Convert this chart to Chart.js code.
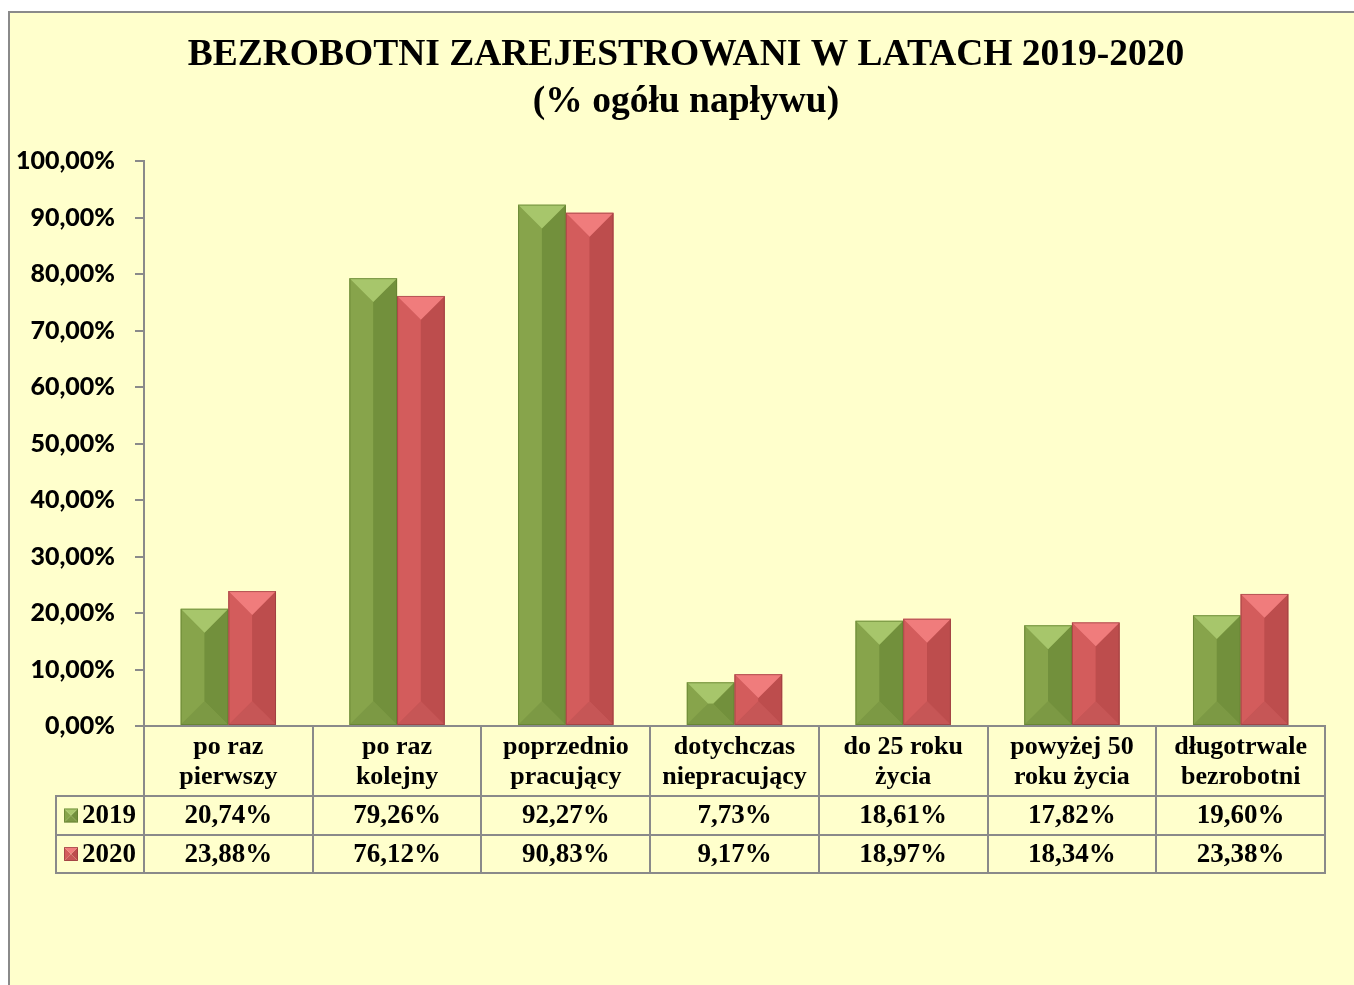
<!DOCTYPE html>
<html>
<head>
<meta charset="utf-8">
<script src="https://cdn.jsdelivr.net/npm/chart.js@4.4.1/dist/chart.umd.min.js"></script>
<style>
  html, body { margin: 0; padding: 0; background: #ffffff; overflow: hidden; width: 1354px; height: 985px; }
  #frame { position: absolute; left: 8px; top: 11px; width: 1344px; height: 972px;
           border-left: 2px solid #8a8a8a; border-top: 2px solid #8a8a8a; background: #FFFFCC; }
  canvas { display: block; }
</style>
</head>
<body>
<div id="frame"><canvas id="c" width="1344" height="972"></canvas></div>
<script>
// ---- data ----
const categories = [
  ["po raz", "pierwszy"],
  ["po raz", "kolejny"],
  ["poprzednio", "pracujący"],
  ["dotychczas", "niepracujący"],
  ["do 25 roku", "życia"],
  ["powyżej 50", "roku życia"],
  ["długotrwale", "bezrobotni"]
];
const seriesNames = ["2019", "2020"];
const values2019 = [20.74, 79.26, 92.27, 7.73, 18.61, 17.82, 19.60];
const values2020 = [23.88, 76.12, 90.83, 9.17, 18.97, 18.34, 23.38];
const titleLines = ["BEZROBOTNI ZAREJESTROWANI W LATACH 2019-2020", "(% ogółu napływu)"];

// ---- styles ----
const faces = [
  { front: "#7f9c45", left: "#87a44b", right: "#72903c", top: "#a7c66b", bottom: "#7c9944", edge: "#5d792c" },
  { front: "#c85454", left: "#d35c5c", right: "#bd4d4d", top: "#f07c7c", bottom: "#c65656", edge: "#8e3a3a" }
];
const gridColor = "#8a8a8a";
const serif = "'Liberation Serif', 'Times New Roman', serif";
const fmt = v => v.toFixed(2).replace('.', ',') + '%';

function bevel(ctx, l, t, r, b, f) {
  const w = r - l, h = b - t;
  const d = Math.min(w / 2, h / 2);
  ctx.save();
  ctx.fillStyle = f.left;
  ctx.beginPath(); ctx.moveTo(l, t); ctx.lineTo(l + d, t + d); ctx.lineTo(l + d, b - d); ctx.lineTo(l, b); ctx.closePath(); ctx.fill();
  ctx.fillStyle = f.right;
  ctx.beginPath(); ctx.moveTo(r, t); ctx.lineTo(r - d, t + d); ctx.lineTo(r - d, b - d); ctx.lineTo(r, b); ctx.closePath(); ctx.fill();
  if (w - 2 * d > 0.5 && h - 2 * d > 0.5) {
    ctx.fillStyle = f.front;
    ctx.fillRect(l + d, t + d, w - 2 * d, h - 2 * d);
  }
  ctx.fillStyle = f.top;
  ctx.beginPath(); ctx.moveTo(l, t); ctx.lineTo(r, t); ctx.lineTo(r - d, t + d); ctx.lineTo(l + d, t + d); ctx.closePath(); ctx.fill();
  ctx.fillStyle = f.bottom;
  ctx.beginPath(); ctx.moveTo(l, b); ctx.lineTo(r, b); ctx.lineTo(r - d, b - d); ctx.lineTo(l + d, b - d); ctx.closePath(); ctx.fill();
  ctx.strokeStyle = f.edge; ctx.lineWidth = 1; ctx.globalAlpha = 0.6;
  ctx.strokeRect(l + 0.5, t + 0.5, w - 1, h - 1);
  ctx.restore();
}

const bevelPlugin = {
  id: 'bevel',
  afterDatasetsDraw(chart) {
    const ctx = chart.ctx;
    chart.data.datasets.forEach((ds, di) => {
      const meta = chart.getDatasetMeta(di);
      meta.data.forEach(el => {
        const p = el.getProps(['x', 'y', 'base', 'width'], true);
        bevel(ctx, p.x - p.width / 2, Math.min(p.y, p.base), p.x + p.width / 2, Math.max(p.y, p.base), faces[di]);
      });
    });
  }
};

const titlePlugin = {
  id: 'customTitle',
  afterDraw(chart) {
    const ctx = chart.ctx;
    ctx.save();
    ctx.fillStyle = "#000";
    ctx.font = "bold 37.5px " + serif;
    ctx.textAlign = "center";
    ctx.textBaseline = "middle";
    ctx.fillText(titleLines[0], 676, 42);
    ctx.fillText(titleLines[1], 676, 89);
    ctx.restore();
  }
};

const tablePlugin = {
  id: 'dataTable',
  afterDraw(chart) {
    const ctx = chart.ctx;
    const xs = chart.scales.x;
    const area = chart.chartArea;
    const n = categories.length;
    const catW = (xs.right - xs.left) / n;
    const top = area.bottom;
    const hdrBottom = top + 70;
    const r1Bottom = hdrBottom + 39;
    const r2Bottom = r1Bottom + 38;
    const legLeft = 46;
    const rows = [values2019, values2020];
    const rowMid = [(hdrBottom + r1Bottom) / 2, (r1Bottom + r2Bottom) / 2];

    ctx.save();
    ctx.strokeStyle = gridColor;
    ctx.lineWidth = 2;
    ctx.beginPath();
    for (let i = 0; i <= n; i++) {
      const x = Math.round(xs.getPixelForValue(0) - catW / 2 + i * catW);
      ctx.moveTo(x, top); ctx.lineTo(x, r2Bottom);
    }
    ctx.moveTo(legLeft, hdrBottom); ctx.lineTo(legLeft, r2Bottom + 1);
    [hdrBottom, r1Bottom, r2Bottom].forEach(y => { ctx.moveTo(legLeft - 1, y); ctx.lineTo(xs.right + 1, y); });
    ctx.stroke();

    ctx.fillStyle = "#000";
    ctx.font = "bold 26px " + serif;
    ctx.textAlign = "center";
    ctx.textBaseline = "middle";
    categories.forEach((lines, i) => {
      const cx = xs.getPixelForValue(i);
      ctx.font = "bold 26px " + serif;
      ctx.fillText(lines[0], cx, top + 21);
      ctx.fillText(lines[1], cx, top + 51);
      ctx.font = "bold 27px " + serif;
      rows.forEach((vals, r) => ctx.fillText(fmt(vals[i]), cx, rowMid[r] + 1));
    });
    ctx.textAlign = "left";
    ctx.font = "bold 27px " + serif;
    seriesNames.forEach((name, r) => {
      bevel(ctx, 54, rowMid[r] - 7, 68, rowMid[r] + 7, faces[r]);
      ctx.fillStyle = "#000";
      ctx.fillText(name, 72, rowMid[r] + 1);
    });
    ctx.restore();
  }
};

new Chart(document.getElementById('c'), {
  type: 'bar',
  data: {
    labels: categories.map(c => c.join(' ')),
    datasets: [
      { label: seriesNames[0], data: values2019, backgroundColor: faces[0].front },
      { label: seriesNames[1], data: values2020, backgroundColor: faces[1].front }
    ]
  },
  options: {
    responsive: false,
    animation: false,
    devicePixelRatio: 1,
    layout: { padding: { left: 0, right: 29, top: 148, bottom: 259 } },
    datasets: { bar: { categoryPercentage: 0.565, barPercentage: 1.0 } },
    plugins: { legend: { display: false }, title: { display: false }, tooltip: { enabled: false } },
    scales: {
      x: {
        ticks: { display: false },
        grid: { display: false, drawTicks: false },
        border: { display: true, color: gridColor, width: 2 },
        afterFit(axis) { axis.height = 0; }
      },
      y: {
        min: 0, max: 100,
        ticks: { stepSize: 10, color: "#000", padding: 20,
                 font: { family: "Lato, 'Open Sans', sans-serif", weight: "900", size: 25 },
                 callback: v => fmt(v) },
        grid: { drawOnChartArea: false, drawTicks: true, tickLength: 9, color: gridColor, lineWidth: 2 },
        border: { display: true, color: gridColor, width: 2 },
        afterFit(axis) { axis.width = 134; }
      }
    }
  },
  plugins: [bevelPlugin, titlePlugin, tablePlugin]
});
</script>
</body>
</html>
